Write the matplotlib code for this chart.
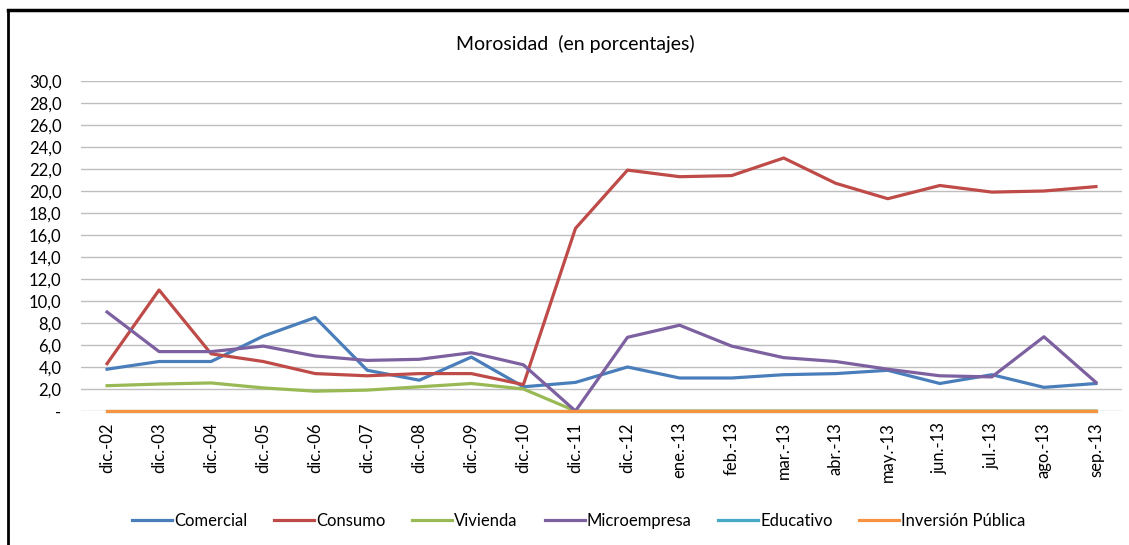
import numpy as np
import matplotlib.pyplot as plt
from matplotlib.lines import Line2D
from matplotlib.ticker import FuncFormatter

plt.rcParams['font.family'] = ['Lato', 'DejaVu Sans']

periods = ['dic.-02', 'dic.-03', 'dic.-04', 'dic.-05', 'dic.-06', 'dic.-07', 'dic.-08',
           'dic.-09', 'dic.-10', 'dic.-11', 'dic.-12', 'ene.-13', 'feb.-13', 'mar.-13',
           'abr.-13', 'may.-13', 'jun.-13', 'jul.-13', 'ago.-13', 'sep.-13']

comercial = [3.8, 4.5, 4.5, 6.8, 8.5, 3.7, 2.8, 4.9, 2.2, 2.6,
             4.0, 3.0, 3.0, 3.3, 3.4, 3.7, 2.5, 3.3, 2.15, 2.5]
consumo = [4.3, 11.0, 5.2, 4.5, 3.4, 3.2, 3.4, 3.4, 2.4, 16.6,
           21.9, 21.3, 21.4, 23.0, 20.7, 19.3, 20.5, 19.9, 20.0, 20.4]
vivienda = [2.3, 2.45, 2.55, 2.1, 1.8, 1.9, 2.2, 2.5, 2.0, 0.0,
            0.0, 0.0, 0.0, 0.0, 0.0, 0.0, 0.0, 0.0, 0.0, 0.0]
microempresa = [9.0, 5.4, 5.4, 5.9, 5.0, 4.6, 4.7, 5.3, 4.2, 0.0,
                6.7, 7.8, 5.9, 4.85, 4.5, 3.8, 3.2, 3.1, 6.75, 2.6]
educativo = [0.0] * 20
inversion = [0.0] * 20

series = [('Comercial', comercial, '#4A7EBB'),
          ('Consumo', consumo, '#BE4B48'),
          ('Vivienda', vivienda, '#98B954'),
          ('Microempresa', microempresa, '#7D60A0'),
          ('Educativo', educativo, '#46AAC5'),
          ('Inversión Pública', inversion, '#F69240')]

fig = plt.figure(figsize=(11.29, 5.45), dpi=100)
ax = fig.add_axes([81/1129, 134/545, 1041/1129, 330/545])

x = np.arange(len(periods))
for name, vals, col in series:
    ax.plot(x, vals, color=col, lw=2.3, label=name, clip_on=False)

ax.set_xlim(-0.5, len(periods) - 0.5)
ax.set_ylim(0, 30)
ax.set_yticks(np.arange(0, 31, 2))
ax.yaxis.set_major_formatter(FuncFormatter(
    lambda v, p: '-' if v == 0 else ('%.1f' % v).replace('.', ',')))
ax.set_xticks(x)
ax.set_xticklabels(periods, rotation=90)
ax.tick_params(length=0, labelsize=12, colors='black')
ax.tick_params(axis='y', pad=14)
ax.tick_params(axis='x', pad=8)
ax.grid(axis='y', color='#BEBEBE', lw=1)
ax.set_axisbelow(True)
for s in ax.spines.values():
    s.set_visible(False)

fig.text(575/1129, 1 - 44/545, 'Morosidad  (en porcentajes)', ha='center', va='center', fontsize=14)

fig.legend(loc='center', bbox_to_anchor=(579/1129, 1 - 521/545), ncol=6, frameon=False,
           fontsize=12, handlelength=2.4, handletextpad=0.12, columnspacing=1.6)

# outer frame
fig.add_artist(Line2D([8/1129, 1], [1 - 10/545, 1 - 10/545], color='black', lw=2.5,
                      transform=fig.transFigure))
fig.add_artist(Line2D([8/1129, 8/1129], [0, 1 - 10/545], color='black', lw=2,
                      transform=fig.transFigure))

fig.savefig('out.png', dpi=100)
